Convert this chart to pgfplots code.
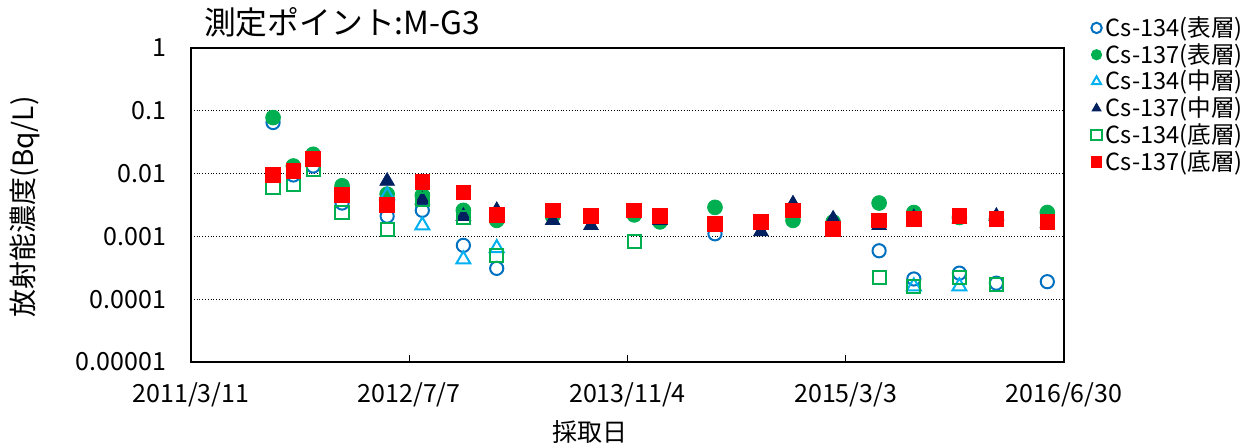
\documentclass[border=0pt]{standalone}
\usepackage{fontspec}
\setmainfont{Noto Sans CJK JP}
\usepackage{pgfplots}
\pgfplotsset{compat=1.18}
\definecolor{sblue}{HTML}{0070C0}
\definecolor{sgreen}{HTML}{00B050}
\definecolor{mcyan}{HTML}{00B0F0}
\definecolor{mnavy}{HTML}{002060}
\definecolor{bred}{HTML}{FF0000}
\begin{document}
\begin{tikzpicture}
\useasboundingbox (0,0) rectangle (626.5pt,224pt);
\begin{axis}[
    at={(95.5pt,43pt)}, anchor=south west,
    scale only axis, width=436.5pt, height=157pt,
    ymode=log, xmin=0, xmax=1936, ymin=1e-5, ymax=1,
    xtick={0,484,968,1452,1936},
    xticklabels={2011/3/11,2012/7/7,2013/11/4,2015/3/3,2016/6/30},
    xtick pos=left, tick align=inside,
    x tick style={black, line width=0.5pt}, major tick length=3.5pt,
    ytick={1e-5,1e-4,1e-3,1e-2,1e-1,1},
    yticklabels={0.00001,0.0001,0.001,0.01,0.1,1},
    y tick style={draw=none}, yminorticks=false,
    ymajorgrids, major grid style={black, densely dotted, line width=0.5pt},
    axis line style={line width=1.2pt},
    tick label style={font=\fontsize{12.5}{12.5}\selectfont},
    xticklabel style={yshift=-7pt},
    yticklabel style={xshift=-9pt},
    /pgf/number format/assume math mode=true,
    title={測定ポイント:M-G3},
    title style={at={(axis description cs:0.007,1.045)}, anchor=west, font=\fontsize{15.9}{15.9}\selectfont},
    xlabel={採取日},
    xlabel style={at={(axis description cs:0.457,-0.223)}, anchor=center, font=\fontsize{12.5}{12.5}\selectfont},
    ylabel={放射能濃度(Bq/L)},
    ylabel style={at={(axis description cs:-0.19,0.494)}, anchor=center, font=\fontsize{14}{14}\selectfont},
    legend style={at={(axis description cs:1.024,1.127)}, anchor=north west, draw=none, fill=none,
        font=\fontsize{11.8}{11.8}\selectfont, row sep=-2pt, cells={anchor=west}},
    legend image code/.code={\draw[#1, mark size=2.6pt] plot coordinates {(0.12cm,0cm)};},
]
\addplot[only marks, mark=o, mark size=3.3pt, sblue, line width=1pt] coordinates {
(182,0.065) (227,0.0095) (271,0.0132) (335,0.0034) (435,0.0021) (513,0.0026)
(604,0.00072) (678,0.00031) (1162,0.0011) (1526,0.00059) (1603,0.00021)
(1704,0.00026) (1786,0.00018) (1899,0.00019)};
\addlegendentry{Cs-134(表層)}
\addplot[only marks, mark=*, mark size=3.7pt, sgreen, draw=sgreen, fill=sgreen] coordinates {
(182,0.078) (227,0.0132) (271,0.0203) (335,0.0064) (435,0.0047) (513,0.0045)
(604,0.0026) (678,0.0018) (802,0.0021) (983,0.0022) (1040,0.0017) (1162,0.0029)
(1335,0.0018) (1424,0.0017) (1526,0.0034) (1603,0.0024) (1704,0.0020)
(1786,0.0019) (1899,0.0024)};
\addlegendentry{Cs-137(表層)}
\addplot[only marks, mark=triangle, mark size=4pt, mcyan, line width=1pt] coordinates {
(435,0.0045) (513,0.0015) (604,0.00043) (678,0.00065) (1603,0.00016) (1704,0.00016)};
\addlegendentry{Cs-134(中層)}
\addplot[only marks, mark=triangle*, mark size=4.2pt, mnavy, fill=mnavy] coordinates {
(435,0.0076) (513,0.0038) (604,0.0021) (678,0.0026) (802,0.0018) (887,0.0015)
(1040,0.0018) (1264,0.0012) (1335,0.0033) (1424,0.0019) (1526,0.0015)
(1603,0.0020) (1704,0.0019) (1786,0.0021) (1899,0.0016)};
\addlegendentry{Cs-137(中層)}
\addplot[only marks, mark=square, mark size=3.3pt, sgreen, line width=1pt] coordinates {
(182,0.0060) (227,0.0068) (271,0.0117) (335,0.0024) (435,0.0013) (513,0.0039)
(604,0.0020) (678,0.0005) (983,0.00083) (1526,0.00022) (1603,0.00016)
(1704,0.00022) (1786,0.00017)};
\addlegendentry{Cs-134(底層)}
\addplot[only marks, mark=square*, mark size=3.7pt, bred, fill=bred] coordinates {
(182,0.0095) (227,0.011) (271,0.0169) (335,0.0046) (435,0.0032) (513,0.0074)
(604,0.0050) (678,0.0022) (802,0.0026) (887,0.0021) (983,0.0026) (1040,0.0021)
(1162,0.0016) (1264,0.0017) (1335,0.0026) (1424,0.0013) (1526,0.0018)
(1603,0.0019) (1704,0.0021) (1786,0.0019) (1899,0.0017)};
\addlegendentry{Cs-137(底層)}
\end{axis}
\end{tikzpicture}
\end{document}
